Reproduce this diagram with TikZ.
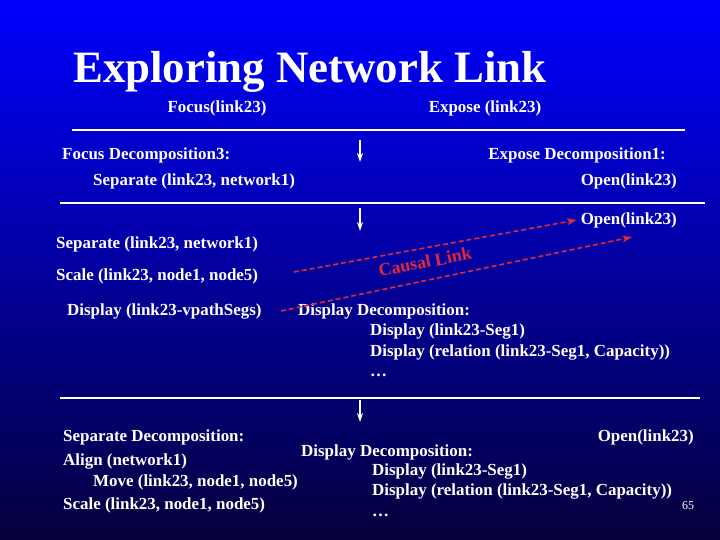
\documentclass[tikz,border=0pt]{standalone}
\usepackage{fontspec}
\setmainfont{Liberation Serif}
\usetikzlibrary{arrows.meta}
\definecolor{slidetop}{RGB}{0,0,255}
\definecolor{slidemid}{RGB}{0,0,200}
\definecolor{slidebot}{RGB}{5,0,60}
\definecolor{linkred}{RGB}{225,40,60}
\tikzset{
  txt/.style={text=white, font=\fontsize{17}{19}\selectfont\bfseries, inner sep=0pt},
  lft/.style={txt, anchor=west},
  rgt/.style={txt, anchor=east},
  rule/.style={white, line width=1.3pt},
  down/.style={white, line width=1.6pt, -{Stealth[length=9pt,width=6pt]}},
  causal/.style={linkred, line width=1.6pt, dash pattern=on 5pt off 3pt, -{Stealth[length=10pt,width=7pt]}}
}
\begin{document}
\begin{tikzpicture}[x=1bp,y=-1bp]
  \shade[top color=slidetop, middle color=slidemid, bottom color=slidebot] (0,0) rectangle (720,540);
  \node[lft, font=\fontsize{45}{50}\selectfont\bfseries] (title) at (73,72) {Exploring Network Link};
  \node[txt] (focus) at (217,108) {Focus(link23)};
  \node[txt] (expose) at (485,108) {Expose (link23)};
  \draw[rule] (72,130) -- (685,130);
  % first step
  \coordinate (a1) at (360,140);
  \coordinate (b1) at (360,162);
  \draw[down] (a1) -- (b1);
  \node[lft] (fdec) at (62,155) {Focus Decomposition3:};
  \node[lft] (sep1) at (93,181) {Separate (link23, network1)};
  \node[rgt] (edec) at (666,155) {Expose Decomposition1:};
  \node[rgt] (open1) at (677,181) {Open(link23)};
  \draw[rule] (60,203) -- (705,203);
  % second step
  \coordinate (a2) at (360,208);
  \coordinate (b2) at (360,231);
  \draw[down] (a2) -- (b2);
  \node[rgt] (open2) at (677,220) {Open(link23)};
  \node[lft] (sep2) at (56,244) {Separate (link23, network1)};
  \node[lft] (scale2) at (56,276) {Scale (link23, node1, node5)};
  \node[lft] (disp2) at (67,311) {Display (link23-vpathSegs)};
  \node[lft] (ddec2) at (298,311) {Display Decomposition:};
  \node[lft] (seg2) at (370,331) {Display (link23-Seg1)};
  \node[lft] (rel2) at (370,352) {Display (relation (link23-Seg1, Capacity))};
  \node[lft] (dots2) at (370,375) {\ldots};
  \coordinate (c1) at (294,272);
  \coordinate (c2) at (281,311);
  \coordinate (d2) at (632,237);
  \draw[causal] (c1) -- ([xshift=-4bp]open2.west);
  \draw[causal] (c2) -- (d2);
  \node[text=linkred, font=\fontsize{18}{20}\selectfont\bfseries, rotate=11] (causal) at (425,262) {Causal Link};
  \draw[rule] (60,398) -- (700,398);
  % third step
  \coordinate (a3) at (360,400);
  \coordinate (b3) at (360,422);
  \draw[down] (a3) -- (b3);
  \node[lft] (sdec) at (63,437) {Separate Decomposition:};
  \node[rgt] (open3) at (694,437) {Open(link23)};
  \node[lft] (ddec3) at (301,452) {Display Decomposition:};
  \node[lft] (align3) at (63,461) {Align (network1)};
  \node[lft] (seg3) at (372,471) {Display (link23-Seg1)};
  \node[lft] (move3) at (93,482) {Move (link23, node1, node5)};
  \node[lft] (rel3) at (372,491) {Display (relation (link23-Seg1, Capacity))};
  \node[lft] (scale3) at (63,505) {Scale (link23, node1, node5)};
  \node[lft] (dots3) at (372,515) {\ldots};
  \node[text=white, font=\fontsize{12}{14}\selectfont] (page) at (688,506) {65};
\end{tikzpicture}
\end{document}
